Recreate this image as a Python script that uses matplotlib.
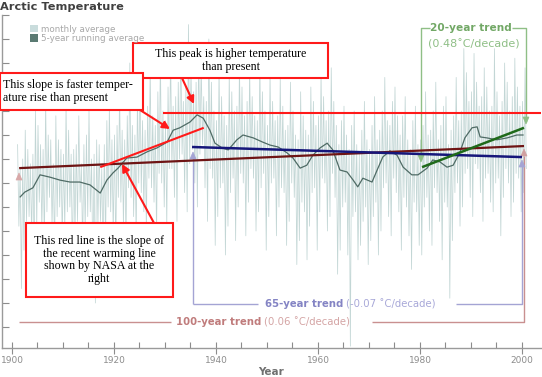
import matplotlib
matplotlib.use('Agg')
import matplotlib.pyplot as plt
from matplotlib.transforms import Affine2D
from matplotlib.lines import Line2D
from matplotlib.patches import Rectangle, Polygon, FancyArrowPatch

# ---------------- data ----------------
years = list(range(1901, 2001))
# monthly average trace: per year, the big upward / downward spikes ...
monthly_hi = [0.3, 0.6, 0.2, 1.0, 0.7, 1.2, 0.5, 0.9, 0.4, 1.1,
              0.6, 0.3, 0.9, 0.5, 1.0, 0.4, 0.3, 0.8, 1.1, 0.7,
              1.4, 0.9, 2.0, 1.3, 1.7, 1.1, 1.9, 1.4, 2.1, 1.5,
              2.2, 1.6, 2.4, 2.8, 1.9, 2.3, 2.0, 2.5, 1.6, 1.9,
              1.3, 1.8, 1.4, 2.0, 1.5, 1.9, 1.3, 2.1, 1.4, 1.8,
              1.2, 1.7, 1.1, 1.6, 1.0, 1.4, 0.9, 1.5, 1.2, 1.8,
              1.3, 1.9, 1.2, 0.8, 1.1, 0.7, 1.0, 0.6, 1.2, 0.7,
              1.3, 1.0, 1.7, 1.2, 1.5, 0.9, 1.3, 0.8, 1.1, 0.7,
              1.4, 1.0, 1.6, 1.1, 1.3, 0.9, 1.7, 2.3, 1.8, 2.2,
              1.6, 1.9, 1.5, 2.3, 1.4, 2.0, 1.6, 2.1, 1.5, 1.9]
monthly_lo = [-2.7, -1.9, -1.6, -2.1, -1.5, -1.8, -1.4, -2.0, -1.7, -1.5,
              -2.2, -1.6, -1.9, -1.5, -2.3, -3.0, -2.1, -1.8, -1.6, -2.0,
              -1.4, -1.8, -1.2, -1.7, -1.1, -1.5, -0.9, -1.6, -1.0, -1.4,
              -0.8, -1.3, -0.7, -1.1, -0.5, -1.0, -0.6, -1.3, -1.8, -1.2,
              -2.0, -1.4, -1.7, -1.0, -1.6, -0.9, -1.5, -1.1, -1.9, -1.2,
              -1.6, -1.0, -1.8, -1.3, -2.2, -1.7, -2.1, -1.4, -1.9, -1.1,
              -1.5, -1.2, -2.4, -1.9, -2.0, -3.9, -2.1, -1.8, -2.2, -1.7,
              -2.0, -1.5, -1.2, -1.6, -1.1, -1.9, -1.6, -2.3, -1.8, -2.0,
              -1.5, -1.8, -1.3, -2.1, -2.9, -1.7, -1.4, -1.0, -0.8, -1.2,
              -0.7, -1.3, -0.9, -1.1, -1.6, -0.8, -1.2, -0.9, -1.1, -0.7]
# ... and the smaller swings in between
monthly_hi2 = [-0.2, 0.0, -0.1, 0.1, 0.3, 0.2, 0.4, -0.1, 0.2, 0.1,
               0.1, 0.2, -0.1, 0.3, 0.0, 0.1, -0.2, 0.3, 0.4, 0.5,
               0.6, 0.4, 0.7, 0.5, 0.8, 0.6, 0.9, 0.7, 1.0, 0.8,
               1.1, 1.3, 1.2, 1.5, 1.4, 1.6, 1.3, 1.2, 1.0, 0.8,
               0.9, 0.7, 1.0, 1.1, 0.9, 1.2, 0.9, 0.8, 1.0, 0.7,
               0.8, 0.9, 0.6, 0.7, 0.5, 0.4, 0.6, 0.5, 0.7, 0.9,
               0.8, 1.0, 0.7, 0.3, 0.5, 0.2, 0.3, 0.1, 0.4, 0.2,
               0.4, 0.6, 0.8, 0.7, 0.9, 0.5, 0.4, 0.2, 0.3, 0.4,
               0.5, 0.6, 0.4, 0.7, 0.3, 0.6, 0.8, 1.0, 1.2, 1.4,
               1.1, 1.3, 1.0, 1.1, 0.9, 1.2, 1.0, 1.3, 1.1, 1.2]
monthly_lo2 = [-1.4, -1.3, -1.2, -1.4, -0.9, -1.1, -0.8, -1.2, -1.0, -1.1,
               -1.0, -1.3, -0.9, -1.2, -1.1, -1.4, -1.3, -1.0, -1.1, -0.8,
               -0.9, -0.6, -0.8, -0.5, -0.7, -0.4, -0.6, -0.3, -0.5, -0.2,
               -0.2, 0.0, 0.1, -0.1, 0.2, 0.1, 0.3, -0.2, -0.4, -0.6,
               -0.5, -0.7, -0.4, -0.3, -0.5, -0.2, -0.4, -0.6, -0.3, -0.5,
               -0.4, -0.6, -0.7, -0.5, -0.8, -0.9, -1.1, -0.7, -0.6, -0.4,
               -0.5, -0.3, -0.8, -1.0, -0.9, -1.2, -1.1, -1.3, -1.0, -1.2,
               -0.9, -0.6, -0.5, -0.4, -0.7, -0.8, -1.0, -0.9, -1.1, -1.0,
               -0.8, -0.6, -0.7, -0.9, -1.0, -0.7, -0.5, -0.3, -0.2, -0.1,
               -0.2, -0.4, -0.3, -0.5, -0.4, -0.2, -0.5, -0.3, -0.4, -0.2]

running_years = [1901.6, 1902.5, 1904.1, 1905.5, 1907.5, 1909.4, 1911.4, 1913.3, 1915.3, 1917.3,
                 1918.6, 1919.8, 1920.8, 1922.5, 1924.5, 1926.5, 1928.4, 1930.4, 1931.6, 1932.9,
                 1934.9, 1936.3, 1937.5, 1938.8, 1939.8, 1941.2, 1942.4, 1944.1, 1945.3, 1947.3,
                 1949.2, 1950.6, 1952.2, 1953.9, 1955.1, 1956.5, 1957.8, 1959.0, 1960.4, 1961.8,
                 1962.9, 1964.3, 1965.7, 1966.9, 1967.8, 1968.8, 1970.6, 1971.6, 1972.7, 1974.1,
                 1975.5, 1976.7, 1978.4, 1979.6, 1981.4, 1982.5, 1983.9, 1985.3, 1986.5, 1987.8,
                 1988.8, 1990.2, 1991.2, 1991.8, 1993.1, 1995.1, 1997.1, 1999.0, 2000.2]
running_vals = [-0.79, -0.69, -0.60, -0.33, -0.38, -0.44, -0.48, -0.48, -0.54, -0.71,
                -0.44, -0.29, -0.19, 0.02, 0.04, 0.15, 0.23, 0.35, 0.60, 0.65,
                0.77, 0.92, 0.85, 0.60, 0.33, 0.23, 0.19, 0.40, 0.50, 0.44,
                0.35, 0.29, 0.25, 0.13, 0.02, -0.19, -0.13, 0.08, 0.23, 0.33,
                0.19, -0.23, -0.27, -0.44, -0.58, -0.40, -0.48, -0.23, 0.04, 0.17,
                0.08, -0.17, -0.33, -0.33, -0.19, -0.02, -0.06, -0.17, -0.13, 0.13,
                0.44, 0.65, 0.67, 0.46, 0.44, 0.40, 0.44, 0.50, 0.50]

trend100_years = [1901.4, 2000.4]
trend100_vals = [-0.19, 0.27]
trend65_years = [1935.3, 2000.0]
trend65_vals = [0.25, 0.04]
trend20_years = [1980.4, 2000.4]
trend20_vals = [-0.17, 0.65]
slope_years = [1917.3, 1937.6]
slope_vals = [-0.17, 0.65]
peak_level = 0.96
peak_start = 1929.6

xtick_years = [1900, 1920, 1940, 1960, 1980, 2000]

# ---------------- figure ----------------
W, H = 542, 377
fig = plt.figure(figsize=(W / 100, H / 100), dpi=100)
fig.patch.set_facecolor('white')
pix = Affine2D().scale(1 / W, -1 / H).translate(0, 1) + fig.transFigure

ax = fig.add_axes([2 / W, 1 - 348 / H, 539 / W, 333 / H])
ax.set_xlim(1898.04, 2003.73)
ax.set_ylim(-3.9375, 3.0)
for s in ['top', 'right']:
    ax.spines[s].set_visible(False)
for s in ['left', 'bottom']:
    ax.spines[s].set_color('#9a9a9a')
    ax.spines[s].set_linewidth(1.0)

ax.set_xticks(xtick_years)
ax.set_xticklabels([str(y) for y in xtick_years], fontsize=6.5, color='#8c8c8c')
ax.set_xticks(list(range(1900, 2001, 5)), minor=True)
ax.tick_params(axis='x', which='major', direction='inout', length=8, width=0.8,
               color='#8c8c8c', pad=2)
ax.tick_params(axis='x', which='minor', direction='in', length=4, width=0.8, color='#8c8c8c')
ax.set_yticks([-3.5 + 0.5 * k for k in range(14)])
ax.set_yticklabels([])
ax.tick_params(axis='y', direction='in', length=5, width=0.8, color='#8c8c8c')
ax.set_xlabel('Year', fontsize=7.5, color='#707070', fontweight='bold', labelpad=1)

# monthly trace
mx, my = [], []
for i, y in enumerate(years):
    if i % 2 == 0:
        seq = [monthly_hi[i], monthly_lo2[i], monthly_hi2[i], monthly_lo[i]]
    else:
        seq = [monthly_hi2[i], monthly_lo[i], monthly_hi[i], monthly_lo2[i]]
    mx += [y + 0.1, y + 0.35, y + 0.6, y + 0.85]
    my += seq
ax.plot(mx, my, color='#c2d6d5', lw=0.55, zorder=1)

# running average
ax.plot(running_years, running_vals, color='#4f6b65', lw=0.9, zorder=4)

# trend lines
ax.plot(trend100_years, trend100_vals, color='#6e1414', lw=1.6, zorder=5, solid_capstyle='butt')
ax.plot(trend65_years, trend65_vals, color='#16167a', lw=1.8, zorder=5, solid_capstyle='butt')
ax.plot(trend20_years, trend20_vals, color='#1f6a1a', lw=1.8, zorder=6, solid_capstyle='butt')
ax.plot(slope_years, slope_vals, color='#ff1a1a', lw=1.5, zorder=6, solid_capstyle='butt')
ax.hlines(peak_level, peak_start, 2003.73, color='#ff1a1a', lw=1.5, zorder=6)


def pline(xs, ys, color, lw=1.0, z=2):
    ax.add_line(Line2D(xs, ys, transform=pix, color=color, lw=lw, zorder=z,
                       clip_on=False, solid_capstyle='butt'))


def tri(x, y, color, up=True, z=3):
    d = 7 if up else -7
    ax.add_patch(Polygon([(x - 3, y + d), (x + 3, y + d), (x, y)], closed=True,
                         transform=pix, facecolor=color, edgecolor=color, lw=0.5,
                         zorder=z, clip_on=False))


# 20-year bracket
g_line = '#8fbf86'
pline([421, 421, 430], [160, 28, 28], g_line)
pline([512, 526, 526], [28, 28, 122], g_line)
tri(421, 162, g_line, up=False)
tri(526, 124, g_line, up=False)
ax.text(471, 28, '20-year trend', transform=pix, ha='center', va='center',
        fontsize=7.6, fontweight='bold', color='#72a866', zorder=3)
ax.text(474, 44, '(0.48˚C/decade)', transform=pix, ha='center', va='center',
        fontsize=8, color='#8fbf86', zorder=3)

# 65-year bracket
b_line = '#a4a4d4'
pline([193, 193], [158, 304], b_line)
pline([193, 258], [304, 304], b_line)
pline([456, 522, 522], [304, 304, 166], b_line)
tri(193, 152, b_line, up=True)
tri(522, 160, b_line, up=True)
ax.text(343, 304, '65-year trend', transform=pix, ha='right', va='center',
        fontsize=7.3, fontweight='bold', color='#8484c4', zorder=3)
ax.text(346, 304, '(-0.07 ˚C/decade)', transform=pix, ha='left', va='center',
        fontsize=7.3, color='#a8a8d8', zorder=3)

# 100-year bracket
p_line = '#c99090'
pline([19, 171], [322, 322], p_line)
pline([372, 524, 524], [322, 322, 156], p_line)
tri(19, 173, '#d8a8a8', up=True)
tri(524, 149, '#d0a0a0', up=True)
ax.text(261, 322, '100-year trend', transform=pix, ha='right', va='center',
        fontsize=7.3, fontweight='bold', color='#c07c7c', zorder=3)
ax.text(264, 322, '(0.06 ˚C/decade)', transform=pix, ha='left', va='center',
        fontsize=7.3, color='#d4a4a4', zorder=3)

# title and legend
fig.text(0, 1 - 7 / H, 'Arctic Temperature', ha='left', va='center',
         fontsize=8.2, fontweight='bold', color='#404040')
fig.add_artist(Rectangle((30, 25), 8, 7, transform=pix, facecolor='#c9dcdc', edgecolor='none'))
fig.add_artist(Rectangle((30, 34), 8, 8, transform=pix, facecolor='#5a7a72', edgecolor='none'))
fig.text(41 / W, 1 - 29 / H, 'monthly average', ha='left', va='center', fontsize=6.3, color='#a8a8a8')
fig.text(41 / W, 1 - 38.5 / H, '5-year running average', ha='left', va='center', fontsize=6.3, color='#a8a8a8')

# red boxed annotations
serif = 'Liberation Serif'
red = '#ff1a1a'


def box(x0, y0, x1, y1):
    ax.add_patch(Rectangle((x0, y0), x1 - x0, y1 - y0, transform=pix, facecolor='white',
                           edgecolor=red, lw=1.5, zorder=8, clip_on=False))


def arrow(x0, y0, x1, y1):
    ax.add_patch(FancyArrowPatch((x0, y0), (x1, y1), transform=pix, arrowstyle='-|>',
                                 mutation_scale=11, color=red, lw=1.5, zorder=9,
                                 clip_on=False, shrinkA=0, shrinkB=0))


box(133, 43, 328, 78)
ax.text(231, 60.5, 'This peak is higher temperature\nthan present', transform=pix,
        ha='center', va='center', fontsize=8.6, family=serif, linespacing=1.05, zorder=9)
box(0, 73, 143, 110)
ax.text(3, 91.5, 'This slope is faster temper-\nature rise than present', transform=pix,
        ha='left', va='center', fontsize=8.6, family=serif, linespacing=1.05, zorder=9)
box(26, 223, 173, 297)
ax.text(99.5, 260, 'This red line is the slope of\nthe recent warming line\nshown by NASA at the\nright',
        transform=pix, ha='center', va='center', fontsize=8.6, family=serif, linespacing=1.05, zorder=9)

arrow(182, 78, 194, 104)
arrow(140, 110, 170, 129)
arrow(154, 223, 122, 164)

fig.savefig('out.png', dpi=100, facecolor='white')
